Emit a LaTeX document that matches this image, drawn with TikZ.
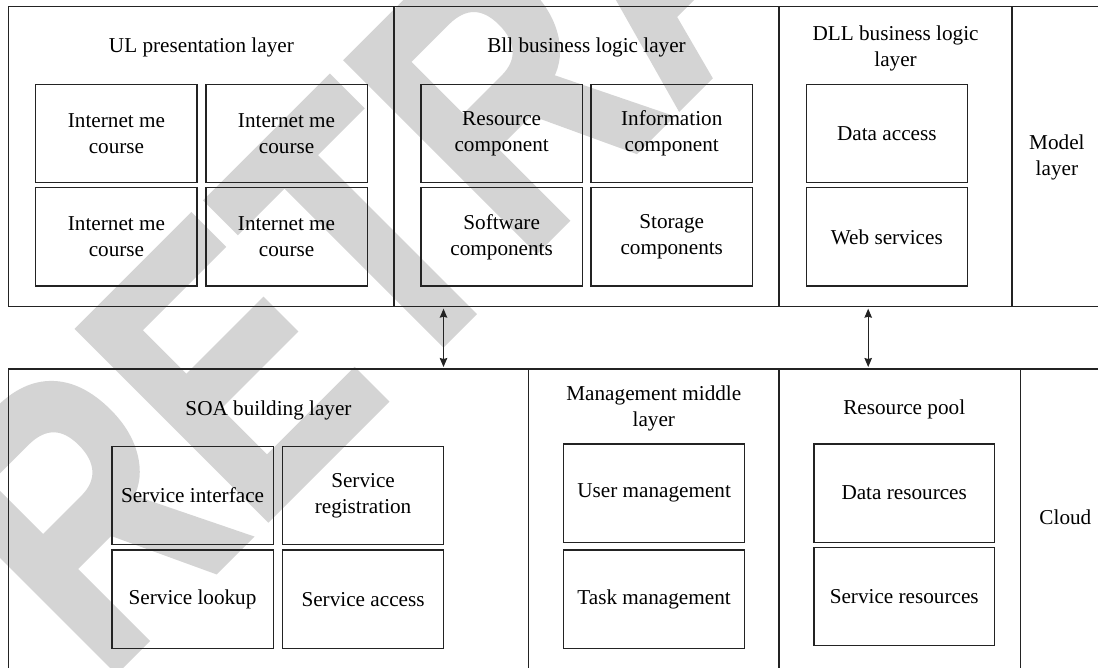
\documentclass[tikz,border=0pt]{standalone}
\usepackage{fontspec}
\setmainfont{Liberation Serif}
\newfontfamily\stampfont{Liberation Sans}[BoldFeatures={FakeBold=1.5}]
\usetikzlibrary{arrows.meta}
\definecolor{ink}{RGB}{35,35,35}
\definecolor{stamp}{RGB}{212,212,212}
\newcommand\bodysize{\fontsize{21.2}{26}\selectfont}
\newcommand\stampsize{\fontsize{390}{390}\selectfont}
\tikzset{
  frame/.style={draw=ink, line width=1.3pt, anchor=north west, inner sep=0pt, outer sep=0pt},
  cell/.style={frame, align=center, font=\bodysize, minimum width=161.3pt, minimum height=98.4pt},
  widecell/.style={cell, minimum width=180.6pt, minimum height=98.3pt},
  heading/.style={align=center, font=\bodysize, inner sep=0pt},
  link/.style={draw=ink, line width=1.1pt,
    {Stealth[length=9pt,width=7.5pt,inset=1pt]}-{Stealth[length=9pt,width=7.5pt,inset=1pt]},
    shorten >=2pt, shorten <=2pt},
}
\begin{document}
\begin{tikzpicture}[x=1pt,y=-1pt]
\useasboundingbox (0,0) rectangle (1098,667);
\clip (0,0) rectangle (1098,667);
\fill[white] (0,0) rectangle (1098,667);

% diagonal stamp behind everything
\node[anchor=base west, rotate=45, inner sep=0pt, text=stamp, font=\stampfont\bfseries\stampsize]
  (stampmark) at (102,685) {\scalebox{0.762}[1]{RETRACTED}};

% upper band of layers
\node[frame, minimum width=385.1pt, minimum height=300pt] (ul)    at (8.8,6.7) {};
\node[frame, minimum width=385.2pt, minimum height=300pt] (bll)   at (393.9,6.7) {};
\node[frame, minimum width=232.9pt, minimum height=300pt] (dll)   at (779.1,6.7) {};
\node[frame, minimum width=95pt,    minimum height=300pt] (model) at (1012,6.7) {};

% lower band of layers
\node[frame, minimum width=519.8pt, minimum height=321pt] (soa)   at (8.8,369) {};
\node[frame, minimum width=250.5pt, minimum height=321pt] (mgmt)  at (528.6,369) {};
\node[frame, minimum width=241.7pt, minimum height=321pt] (res)   at (779.1,369) {};
\node[frame, minimum width=95pt,    minimum height=321pt] (cloud) at (1020.8,369) {};

% layer headings
\node[heading, anchor=base] (ult)    at (201.4,52.3) {UL presentation layer};
\node[heading, anchor=base] (bllt)   at (586.5,52.3) {Bll business logic layer};
\node[heading]              (dllt)   at (895.6,48.7) {DLL business logic\\layer};
\node[heading]              (modelt) at (1056.9,157.1) {Model\\layer};
\node[heading, anchor=base] (soat)   at (268.5,415.7) {SOA building layer};
\node[heading]              (mgmtt)  at (653.8,408.7) {Management middle\\layer};
\node[heading, anchor=base] (rest)   at (904.2,414) {Resource pool};
\node[heading, anchor=base] (cloudt) at (1065.4,524) {Cloud};

% presentation layer
\node[cell] (ul1) at (35.8,84.3)   {Internet me\\course};
\node[cell] (ul2) at (205.9,84.3)  {Internet me\\course};
\node[cell] (ul3) at (35.8,187.7)  {Internet me\\course};
\node[cell] (ul4) at (205.9,187.7) {Internet me\\course};

% business logic layer
\node[cell] (bll1) at (421,84.3)    {Resource\\component};
\node[cell] (bll2) at (591.1,84.3)  {Information\\component};
\node[cell] (bll3) at (421,187.7)   {Software\\components};
\node[cell] (bll4) at (591.1,187.7) {Storage\\components};

% data layer
\node[cell] (dll1) at (806.2,84.3)  {Data access};
\node[cell] (dll2) at (806.2,187.7) {Web services};

% SOA building layer
\node[cell] (soa1) at (111.9,446.3) {Service interface};
\node[cell] (soa2) at (282.4,446.3) {Service\\registration};
\node[cell] (soa3) at (111.9,550)   {Service lookup};
\node[cell] (soa4) at (282.4,550)   {Service access};

% management middle layer
\node[widecell] (mg1) at (563.8,444) {User management};
\node[widecell] (mg2) at (563.8,550) {Task management};

% resource pool
\node[widecell] (rp1) at (813.9,444)   {Data resources};
\node[widecell] (rp2) at (813.9,547.3) {Service resources};

% links between the two bands
\coordinate (lx) at (443.5,0);
\coordinate (rx) at (868.2,0);
\draw[link] (bll.south -| lx) -- (soa.north -| lx);
\draw[link] (dll.south -| rx) -- (res.north -| rx);
\end{tikzpicture}
\end{document}
